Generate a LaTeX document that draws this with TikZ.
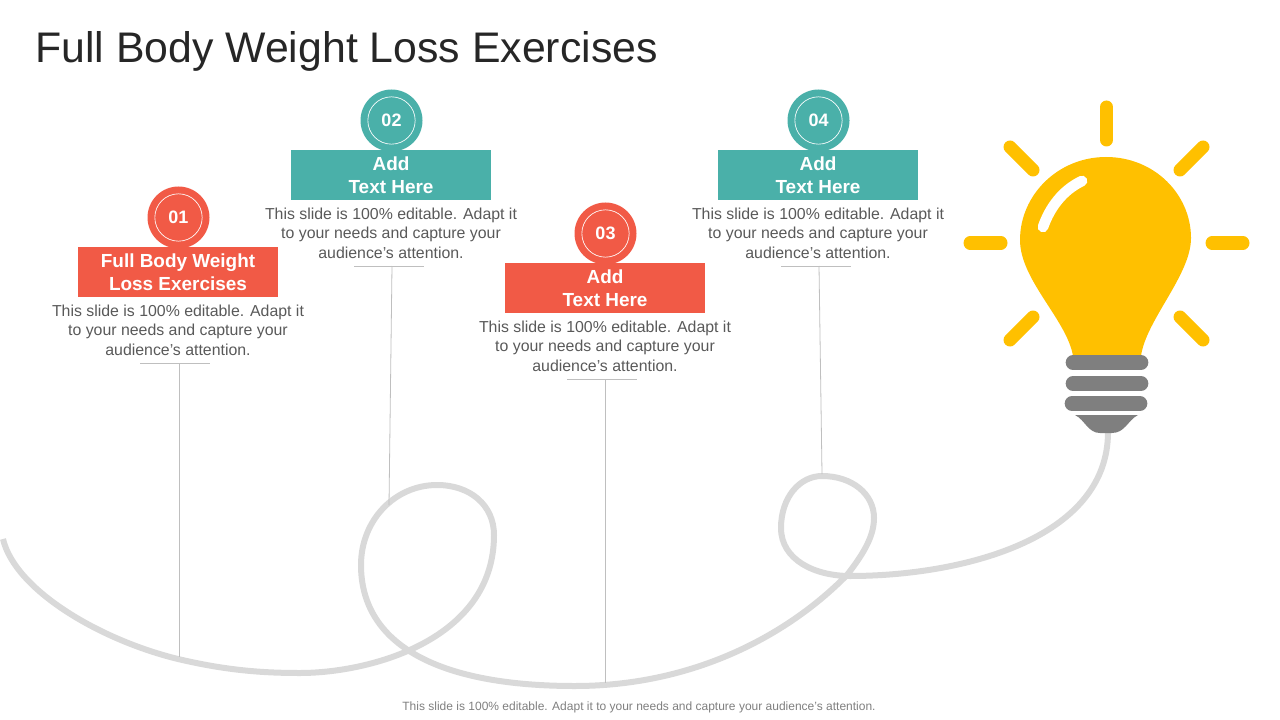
\documentclass[tikz,border=0pt]{standalone}
\usepackage{fontspec}
\setmainfont{Liberation Sans}
\usepackage{xcolor}
\definecolor{slidered}{HTML}{F15A46}
\definecolor{slideteal}{HTML}{4AB0A9}
\definecolor{bulbyellow}{HTML}{FFC000}
\definecolor{bulbgray}{HTML}{7F7F7F}
\definecolor{wiregray}{HTML}{D9D9D9}
\definecolor{leadgray}{HTML}{BFBFBF}
\definecolor{bodygray}{HTML}{595959}
\definecolor{titlegray}{HTML}{262626}
\tikzset{
  numdisc/.style={circle, minimum size=46.5pt, inner sep=0, text=white, font=\fontsize{13.5}{16}\selectfont\bfseries},
  numring/.style={circle, draw=white, line width=.5pt, minimum size=35.5pt, inner sep=0},
  headbox/.style={minimum width=150pt, minimum height=37.5pt, inner sep=0, text=white, align=center, font=\fontsize{14.2}{17.25}\selectfont\bfseries},
  bodytext/.style={align=center, inner sep=0, text=bodygray, font=\fontsize{11.9}{14.7}\selectfont},
  leadline/.style={leadgray, line width=.6pt},
  ray/.style={bulbyellow, line width=9.75pt, line cap=round},
  screwbar/.style={bulbgray, line width=11pt, line cap=round}
}
\begin{document}
\begin{tikzpicture}[x=.75pt,y=-.75pt]
\useasboundingbox (0,0) rectangle (1280,720);
\node[anchor=west, inner sep=0, text=titlegray, font=\fontsize{32.1}{38}\selectfont] (title) at (35,51.5) {Full Body Weight Loss Exercises};
\draw[wiregray, line width=4.5pt, line join=round] (3,539) .. controls (15,590) and (100,640) .. (178,659) .. controls (225,670) and (260,673) .. (300,673) .. controls (370,673) and (494,640) .. (494,535) .. controls (494,505) and (470,485) .. (437,485) .. controls (395,485) and (361,520) .. (361,565) .. controls (361,640) and (430,686) .. (575,686) .. controls (690,686) and (785,638) .. (847,575) .. controls (865,552) and (874,535) .. (874,518) .. controls (874,494) and (852,476) .. (822,476) .. controls (800,476) and (781,497) .. (781,528) .. controls (781,560) and (815,576) .. (850,576) .. controls (960,576) and (1108,540) .. (1108,432);
\foreach \n/\x/\y/\col/\headline/\rl/\rr/\ry/\mx/\fx/\fy in {
  1/178/247/slidered/{Full Body Weight\\Loss Exercises}/140/210/363/179/179/657,
  2/391/150/slideteal/{Add\\Text Here}/354/424/266/392/389/505,
  3/605/263/slidered/{Add\\Text Here}/567/637/379/605/605/683,
  4/818/150/slideteal/{Add\\Text Here}/781/851/266/819/822/474} {
 \node[numdisc, fill=\col] (disc\n) at (\x+.5,\y-29.5) {0\n};
 \node[numring] (ring\n) at (disc\n) {};
 \node[headbox, fill=\col, anchor=north] (head\n) at (\x,\y) {\headline};
 \node[bodytext] (body\n) at (\x,\y+83) {This slide is 100\% editable. Adapt it\\to your needs and capture your\\audience's attention.};
 \coordinate (ruleL\n) at (\rl,\ry);
 \coordinate (ruleR\n) at (\rr,\ry);
 \coordinate (ruleM\n) at (\mx,\ry);
 \coordinate (foot\n) at (\fx,\fy);
 \draw[leadline] (ruleL\n)--(ruleR\n);
 \draw[leadline] (ruleM\n)--(foot\n);
}
\fill[bulbyellow] (1106,157) .. controls (1155,157) and (1191,195) .. (1191,238) .. controls (1191,275) and (1146,320) .. (1141,356) -- (1073,356) .. controls (1067,320) and (1020,280) .. (1020,240) .. controls (1020,195) and (1058,157) .. (1106,157) -- cycle;
\draw[white, line width=8pt, line cap=round] (1043,227) .. controls (1050,207) and (1063,190) .. (1082,181);
\foreach \a/\b/\c/\d in {1106.5/107/1106.5/140, 970/243/1001/243, 1212/243/1243/243, 1010/147/1033/170, 1203/147/1180/170, 1033/317/1010/340, 1180/317/1203/340} {
 \draw[ray] (\a,\b)--(\c,\d);
}
\foreach \a/\b/\c in {1073/1141/362.5, 1073/1141/383.5, 1072/1140/403.5} {
 \draw[screwbar] (\a,\c)--(\b,\c);
}
\fill[bulbgray] (1075,415) -- (1138,415) .. controls (1128,420) and (1125,433) .. (1112,433) -- (1100,433) .. controls (1088,433) and (1085,420) .. (1075,415) -- cycle;
\node[inner sep=0, text=bulbgray, font=\fontsize{9}{11}\selectfont] (footer) at (639,707) {This slide is 100\% editable. Adapt it to your needs and capture your audience's attention.};
\end{tikzpicture}
\end{document}
